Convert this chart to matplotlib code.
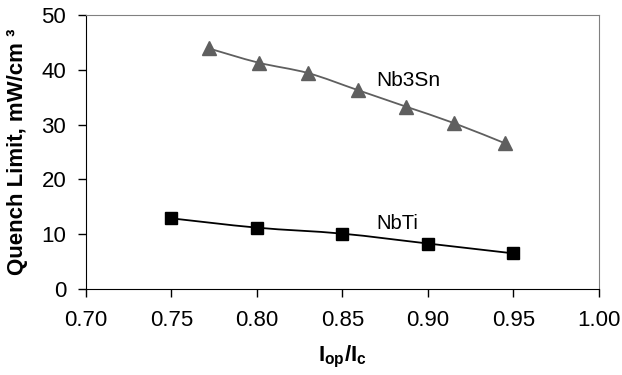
import matplotlib
matplotlib.use("Agg")
import matplotlib.pyplot as plt
import numpy as np
from matplotlib.path import Path
from matplotlib.patches import PathPatch

plt.rcParams['font.family'] = ['Liberation Sans', 'DejaVu Sans']
plt.rcParams['mathtext.fontset'] = 'custom'
plt.rcParams['mathtext.rm'] = 'Liberation Sans'
plt.rcParams['mathtext.bf'] = 'Liberation Sans:bold'

# data
nbti_x = [0.75, 0.80, 0.85, 0.90, 0.95]
nbti_y = [12.9, 11.2, 10.1, 8.3, 6.5]

nb3sn_x = [0.772, 0.801, 0.830, 0.859, 0.887, 0.915, 0.945]
nb3sn_y = [43.9, 41.3, 39.4, 36.3, 33.3, 30.3, 26.6]

x_ticks = [0.70, 0.75, 0.80, 0.85, 0.90, 0.95, 1.00]
y_ticks = [0, 10, 20, 30, 40, 50]


def smooth_path(xs, ys):
    # Excel-like smoothed line: cubic bezier through the points
    p = np.column_stack([xs, ys])
    verts = [p[0]]
    codes = [Path.MOVETO]
    n = len(p)
    for i in range(n - 1):
        p0 = p[i - 1] if i > 0 else p[i]
        p3 = p[i + 2] if i + 2 < n else p[i + 1]
        c1 = p[i] + (p[i + 1] - p0) / 6.0
        c2 = p[i + 1] - (p3 - p[i]) / 6.0
        verts += [c1, c2, p[i + 1]]
        codes += [Path.CURVE4] * 3
    return Path(verts, codes)


fig = plt.figure(figsize=(6.22, 3.75), dpi=100)
ax = fig.add_axes([0.1378, 0.2293, 0.963 - 0.1378, 0.96 - 0.2293])

ax.add_patch(PathPatch(smooth_path(nb3sn_x, nb3sn_y), fill=False,
                       edgecolor='#5f5f5f', lw=1.3))
ax.add_patch(PathPatch(smooth_path(nbti_x, nbti_y), fill=False,
                       edgecolor='#000000', lw=1.3))
ax.plot(nb3sn_x, nb3sn_y, ls='none', marker='^', ms=10.5, color='#5f5f5f')
ax.plot(nbti_x, nbti_y, ls='none', marker='s', ms=9, color='#000000')

ax.text(0.8885, 38.0, 'Nb3Sn', fontsize=15, ha='center', va='center')
ax.text(0.8823, 12.0, 'NbTi', fontsize=14.5, ha='center', va='center')

ax.set_xlim(0.70, 1.00)
ax.set_ylim(0, 50)
ax.set_xticks(x_ticks)
ax.set_xticklabels(['%.2f' % v for v in x_ticks])
ax.set_yticks(y_ticks)
ax.tick_params(labelsize=16, direction='out', length=6, width=1)
ax.tick_params(axis='x', pad=9)
ax.tick_params(axis='y', pad=8)

ax.spines['top'].set_color('#808080')
ax.spines['right'].set_color('#808080')

ax.set_xlabel(r'$\mathbf{I_{op}/I_{c}}$', fontsize=16)
ax.xaxis.set_label_coords(0.5, -0.2)
ax.set_ylabel('Quench Limit, mW/cm ³', fontsize=16, fontweight='bold')
ax.yaxis.set_label_coords(-0.112, 0.5)

fig.savefig('out.png', dpi=100)
